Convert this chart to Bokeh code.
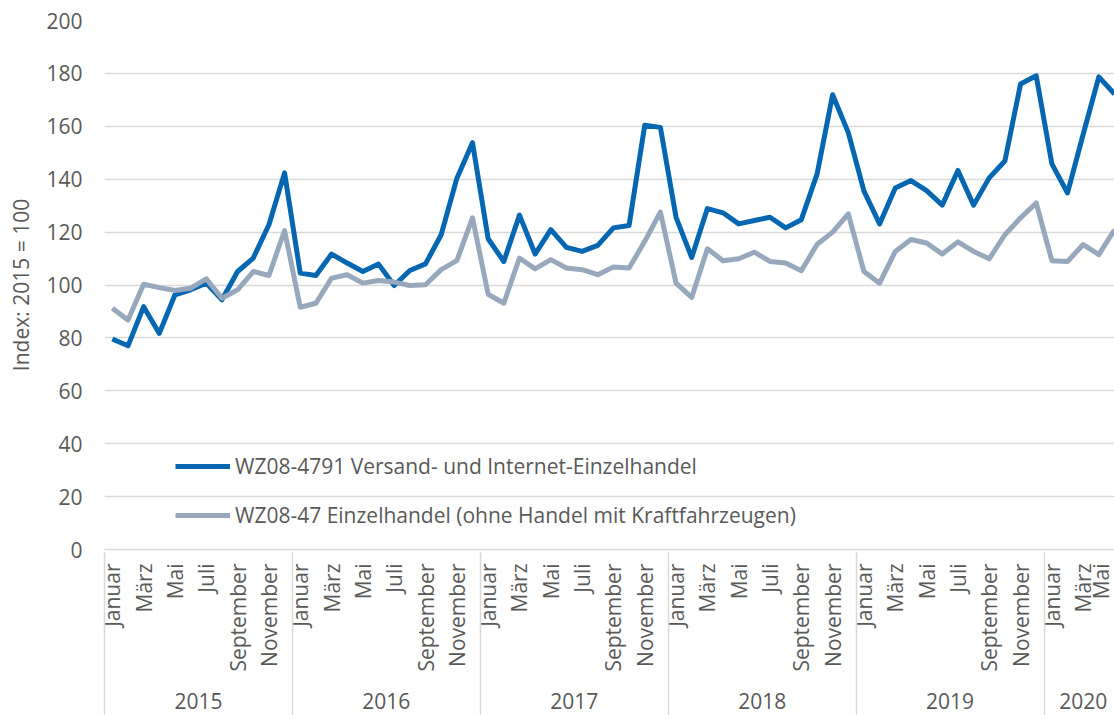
import math
from bokeh.plotting import figure
from bokeh.models import LinearAxis, FixedTicker, Legend, LegendItem, Range1d, ColumnDataSource
from bokeh.embed import file_html
from bokeh.resources import INLINE

# ---- data ----
years = ["2015", "2016", "2017", "2018", "2019", "2020"]
months_per_year = [12, 12, 12, 12, 12, 5]
month_names = ["Januar", "Februar", "März", "April", "Mai", "Juni", "Juli",
               "August", "September", "Oktober", "November", "Dezember"]

versand = [
    79.6, 77.0, 91.8, 81.7, 96.3, 98.2, 100.7, 94.4, 105.1, 110.2, 122.8, 142.4,
    104.5, 103.6, 111.7, 108.3, 105.1, 107.9, 99.8, 105.5, 108.0, 119.0, 140.3, 153.8,
    117.5, 108.9, 126.4, 111.7, 120.9, 114.2, 112.7, 115.0, 121.6, 122.5, 160.4, 159.6,
    125.6, 110.4, 128.9, 127.3, 123.1, 124.4, 125.6, 121.6, 124.7, 141.8, 171.9, 157.6,
    135.5, 123.1, 136.7, 139.5, 135.7, 130.2, 143.3, 130.2, 140.5, 146.9, 176.0, 179.1,
    145.8, 134.8, 157.0, 178.7, 172.2,
]
einzelhandel = [
    91.2, 86.8, 100.3, 99.0, 97.9, 98.8, 102.3, 95.0, 98.2, 105.1, 103.6, 120.6,
    91.6, 93.1, 102.6, 103.9, 100.7, 101.7, 101.1, 99.8, 100.1, 105.8, 109.2, 125.4,
    96.5, 93.1, 110.2, 106.1, 109.6, 106.4, 105.8, 103.9, 106.8, 106.4, 116.5, 127.6,
    100.7, 95.3, 113.7, 109.2, 109.9, 112.4, 108.9, 108.3, 105.4, 115.3, 120.0, 126.9,
    105.1, 100.7, 112.7, 117.2, 115.9, 111.7, 116.3, 112.7, 109.9, 119.0, 125.4, 131.0,
    109.2, 108.9, 115.3, 111.5, 120.9,
]
series_names = ["WZ08-4791 Versand- und Internet-Einzelhandel",
                "WZ08-47 Einzelhandel (ohne Handel mit Kraftfahrzeugen)"]
y_ticks = [0, 20, 40, 60, 80, 100, 120, 140, 160, 180, 200]

# ---- derived positions ----
n = len(versand)
x = [i + 0.5 for i in range(n)]
src = ColumnDataSource(dict(x=x, v=versand, e=einzelhandel))

month_ticks = []
month_over = {}
year_ticks = []
year_over = {}
bounds = []
start = 0
for yr, cnt in zip(years, months_per_year):
    bounds.append(float(start))
    for m in range(0, cnt, 2):
        pos = start + m + 0.5
        month_ticks.append(pos)
        month_over[pos] = month_names[m]
    c = start + cnt / 2.0
    year_ticks.append(c)
    year_over[c] = yr
    start += cnt

FONT = "Open Sans"
FS = "21px"
TXT = "#595959"
GRID = "#D9D9D9"
BLUE = "#0567B1"
GRAY = "#97A8BD"

p = figure(width=1114, height=715, output_backend="svg", toolbar_location=None,
           x_range=Range1d(0, 64.5), y_range=Range1d(0, 200),
           min_border_left=104, min_border_right=0, min_border_top=20,
           min_border_bottom=0)
p.outline_line_color = None
p.background_fill_color = "white"
p.border_fill_color = "white"

# y axis
ya = p.yaxis[0]
ya.ticker = FixedTicker(ticks=y_ticks)
ya.axis_line_color = None
ya.major_tick_line_color = None
ya.minor_tick_line_color = None
ya.major_tick_out = 0
ya.major_tick_in = 0
ya.major_label_text_font = FONT
ya.major_label_text_font_size = FS
ya.major_label_text_color = TXT
ya.major_label_standoff = 22
ya.axis_label = "Index: 2015 = 100"
ya.axis_label_text_font = FONT
ya.axis_label_text_font_size = FS
ya.axis_label_text_font_style = "normal"
ya.axis_label_text_color = TXT
ya.axis_label_standoff = 8

p.ygrid.ticker = FixedTicker(ticks=y_ticks)
p.ygrid.grid_line_color = GRID
p.ygrid.grid_line_width = 1.5
p.xgrid.grid_line_color = None

# month axis
xa = p.xaxis[0]
xa.ticker = FixedTicker(ticks=month_ticks)
xa.major_label_overrides = month_over
xa.major_label_orientation = math.pi / 2
xa.major_label_text_font = FONT
xa.major_label_text_font_size = FS
xa.major_label_text_color = TXT
xa.major_label_standoff = 14
xa.major_tick_line_color = None
xa.minor_tick_line_color = None
xa.major_tick_out = 0
xa.major_tick_in = 0
xa.minor_tick_out = 0
xa.minor_tick_in = 0
xa.axis_line_color = GRID
xa.axis_line_width = 1.5

# year axis (its minor ticks draw the year separators)
ya2 = LinearAxis(ticker=FixedTicker(ticks=year_ticks, minor_ticks=bounds))
ya2.major_label_overrides = year_over
ya2.major_label_text_font = FONT
ya2.major_label_text_font_size = FS
ya2.major_label_text_color = TXT
ya2.major_label_standoff = -30
ya2.axis_line_color = None
ya2.major_tick_line_color = None
ya2.major_tick_out = 0
ya2.major_tick_in = 0
ya2.minor_tick_line_color = GRID
ya2.minor_tick_line_width = 1.5
ya2.minor_tick_in = 122
ya2.minor_tick_out = 48
p.add_layout(ya2, "below")

# spacer axis at the very bottom (invisible)
spacer = LinearAxis(ticker=FixedTicker(ticks=[1.0]))
spacer.major_label_overrides = {1.0: " "}
spacer.axis_line_color = None
spacer.major_tick_line_color = None
spacer.minor_tick_line_color = None
spacer.major_tick_out = 4
spacer.major_tick_in = 0
spacer.minor_tick_out = 0
spacer.major_label_standoff = 0
spacer.major_label_text_font_size = "1px"
spacer.major_label_text_color = None
p.add_layout(spacer, "below")

r1 = p.line("x", "v", source=src, line_color=BLUE, line_width=5, line_join="round")
r2 = p.line("x", "e", source=src, line_color=GRAY, line_width=5, line_join="round")

leg = Legend(items=[LegendItem(label=series_names[0], renderers=[r1]),
                    LegendItem(label=series_names[1], renderers=[r2])],
             location=(71, 20), orientation="vertical")
leg.background_fill_alpha = 0
leg.border_line_color = None
leg.padding = 0
leg.margin = 0
leg.spacing = 21
leg.glyph_width = 55
leg.glyph_height = 24
leg.label_height = 24
leg.label_standoff = 5
leg.label_text_font = FONT
leg.label_text_font_size = FS
leg.label_text_color = TXT
p.add_layout(leg, "center")

open("out.html", "w").write(file_html(p, INLINE))
